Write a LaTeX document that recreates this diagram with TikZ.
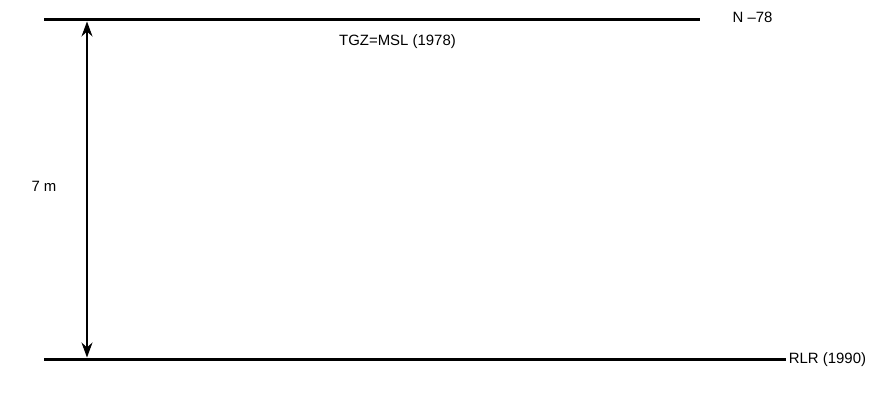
\documentclass[tikz,border=0pt]{standalone}
\usepackage{fontspec}
\setmainfont{Liberation Sans}
\usepackage{tikz}
\usetikzlibrary{arrows.meta,positioning}

\begin{document}
\begin{tikzpicture}[
  level line/.style={line width=1.7pt, black},
  level label/.style={font=\fontsize{8.5}{10}\selectfont, inner sep=0pt},
  >={Stealth[length=3mm, width=2.2mm]}
]
  \useasboundingbox (0,0) rectangle (17.5,8);

  % Reference levels
  \coordinate (n78 left)  at (0.88, 7.61);
  \coordinate (n78 right) at (14.0, 7.61);
  \coordinate (rlr left)  at (0.88, 0.81);
  \coordinate (rlr right) at (15.72, 0.81);
  \draw[level line] (n78 left) -- (n78 right);
  \draw[level line] (rlr left) -- (rlr right);

  % Labels
  \node[level label] (n78) at (15.05, 7.66) {N –78};
  \node[level label] (tgz) at (7.95, 7.16) {TGZ=MSL (1978)};
  \node[level label, anchor=west, xshift=0.5mm] (rlr) at (rlr right) {RLR (1990)};

  % Difference between the levels
  \coordinate (dim top) at (1.74, 7.57);
  \coordinate (dim bot) at (1.74, 0.85);
  \draw[<->, line width=0.6pt] (dim top) -- (dim bot);
  \node[level label] (diff) at (0.88, 4.28) {7 m};
\end{tikzpicture}
\end{document}
